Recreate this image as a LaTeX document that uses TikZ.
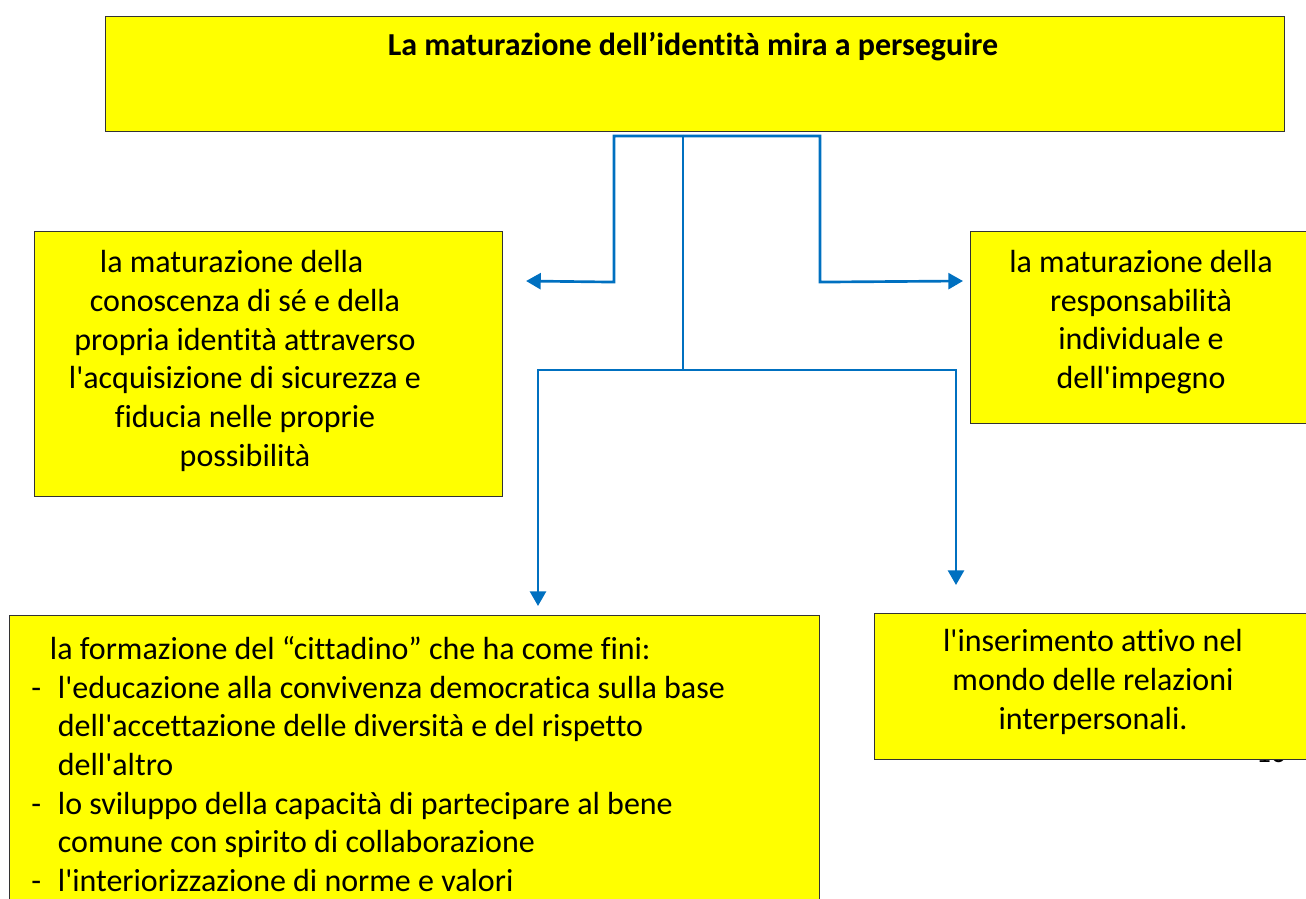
\documentclass[tikz,border=0pt]{standalone}
\usepackage{fontspec}
\setmainfont{Carlito}[Ligatures={NoCommon}]
\usetikzlibrary{calc,arrows.meta}
\definecolor{boxyellow}{HTML}{FFFF00}
\definecolor{linkblue}{HTML}{0070C0}
\newcommand{\ap}{\textquotesingle}
\begin{document}
\begin{tikzpicture}[x=0.75pt,y=-0.75pt,
  yellowbox/.style={draw=black!80,line width=0.8pt,fill=boxyellow,inner sep=0pt,anchor=north west},
  boxtext/.style={align=center,font=\fontsize{24}{29}\selectfont,inner sep=0pt},
  arr/.style={draw=linkblue,line width=2pt,-{Triangle[length=11pt,width=12pt]}}]
\useasboundingbox (0,0) rectangle (1306,899);
\clip (0,0) rectangle (1306,899);
% boxes
\node[yellowbox,minimum width=1179*0.75pt,minimum height=115*0.75pt] (top) at (105,16) {};
\node[yellowbox,minimum width=468*0.75pt,minimum height=265*0.75pt] (left) at (34,231) {};
\node[yellowbox,minimum width=345*0.75pt,minimum height=192*0.75pt] (right) at (970,231) {};
\node[font=\fontsize{22}{26}\selectfont,anchor=base,inner sep=0pt] (pg) at (1271,762) {16};
\node[yellowbox,minimum width=440*0.75pt,minimum height=146*0.75pt] (br) at (874,613) {};
\node[yellowbox,minimum width=810*0.75pt,minimum height=300*0.75pt] (bl) at (9,615) {};
% texts
\node[boxtext,font=\fontsize{24}{29}\selectfont\bfseries] (ttl) at (693,47) {La maturazione dell’identità mira a perseguire};
\node[boxtext] (lt) at (245,361) {\hspace*{-20pt}la maturazione della\\conoscenza di sé e della\\propria identità attraverso\\l\ap acquisizione di sicurezza e\\fiducia nelle proprie\\possibilità};
\node[boxtext] (rt) at (1141,322) {la maturazione della\\responsabilità\\individuale e\\dell\ap impegno};
\node[boxtext] (brt) at (1093,682) {l\ap inserimento attivo nel\\mondo delle relazioni\\interpersonali.};
\node[font=\fontsize{24}{29}\selectfont,align=left,inner sep=0pt,anchor=north west] (blt) at (31,636) {%
\hspace*{14pt}la formazione del “cittadino” che ha come fini:\\
\makebox[20pt][l]{-}l\ap educazione alla convivenza democratica sulla base\\
\hspace*{20pt}dell\ap accettazione delle diversità e del rispetto\\
\hspace*{20pt}dell\ap altro\\
\makebox[20pt][l]{-}lo sviluppo della capacità di partecipare al bene\\
\hspace*{20pt}comune con spirito di collaborazione\\
\makebox[20pt][l]{-}l\ap interiorizzazione di norme e valori};
% connectors
\draw[arr] ($(top.south west)+(578,4)$) -| ($(top.south west)+(509,150)$) -- ($(left.north east)+(23,50)$);
\draw[arr] ($(top.south west)+(578,4)$) -| ($(top.south west)+(715,150)$) -- ($(right.north west)+(-7,50)$);
\draw[arr] ($(top.south west)+(578,4)$) |- ($(top.south west)+(433,238)$) -- ($(bl.north west)+(529,-9)$);
\draw[arr] ($(top.south west)+(578,4)$) |- ($(top.south west)+(851,238)$) -- ($(br.north west)+(82,-28)$);
\end{tikzpicture}
\end{document}
